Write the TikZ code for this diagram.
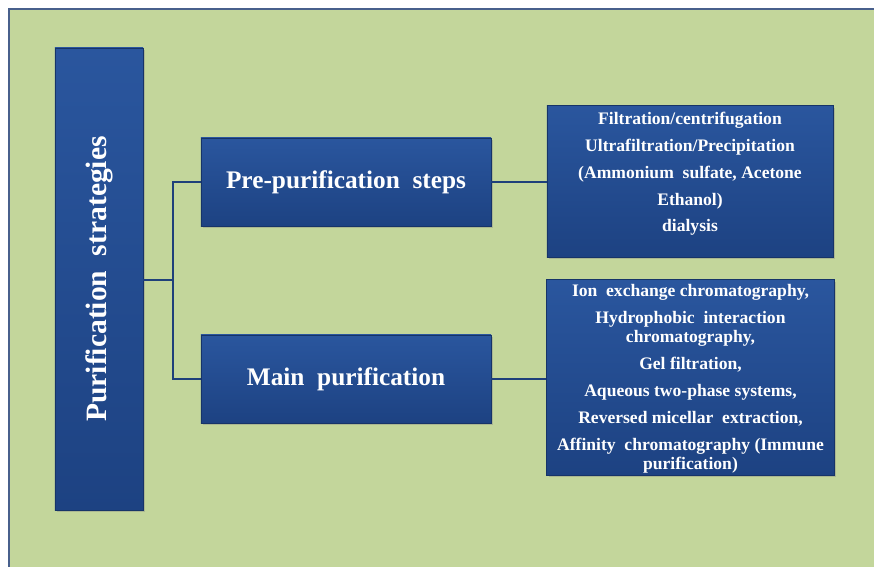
\documentclass[tikz,border=0pt]{standalone}
\usepackage{fontspec}
\setmainfont{Liberation Serif}
\usepackage{tikz}
\usetikzlibrary{positioning,shadows}
\definecolor{panelgreen}{RGB}{195,214,155}
\definecolor{paneledge}{RGB}{72,96,140}
\definecolor{boxtop}{RGB}{42,86,158}
\definecolor{boxbot}{RGB}{29,66,130}
\definecolor{boxedge}{RGB}{22,52,104}
\definecolor{linkblue}{RGB}{30,64,122}

\begin{document}
\begin{tikzpicture}[x=0.025cm, y=-0.025cm,
	box/.style={draw=boxedge, line width=0.6pt, top color=boxtop, bottom color=boxbot,
		text=white, font=\bfseries, align=center,
		drop shadow={shadow xshift=1.2pt, shadow yshift=-1.2pt, opacity=0.35}},
	listtext/.style={text=white, align=center, font=\bfseries\fontsize{12.5}{13.4}\selectfont},
	link/.style={draw=linkblue, line width=1.4pt}]
	\clip (0,0) rectangle (874,566);
	\fill[white] (0,0) rectangle (874,566);
	\draw[fill=panelgreen, draw=paneledge, line width=1.6pt] (9,9) rectangle (900,600);
	% boxes
	\node[box, minimum width=2.2cm, minimum height=11.55cm] (strat) at (99,279) {};
	\node[text=white, font=\bfseries\fontsize{21}{24}\selectfont, rotate=90] (stratlabel) at (strat.center) {Purification~ strategies};
	\node[box, minimum width=7.25cm, minimum height=2.2cm, font=\bfseries\fontsize{18}{21}\selectfont] (pre) at (346,182) {Pre-purification~ steps};
	\node[box, minimum width=7.25cm, minimum height=2.2cm, font=\bfseries\fontsize{18}{21}\selectfont] (main) at (346,379) {Main~ purification};
	\node[box, minimum width=7.15cm, minimum height=3.78cm] (filt) at (690,181.5) {};
	\node[listtext] (filttext) at (690,174) {Filtration/centrifugation\\[5.6pt]
		Ultrafiltration/Precipitation\\[5.6pt]
		(Ammonium~ sulfate, Acetone\\[5.6pt]
		Ethanol)\\[5.6pt]
		dialysis};
	\node[box, minimum width=7.18cm, minimum height=4.88cm] (chrom) at (690.5,377.5) {};
	\node[listtext] (chromtext) at (690.5,379) {Ion~ exchange chromatography,\\[5.8pt]
		Hydrophobic~ interaction\\
		chromatography,\\[5.8pt]
		Gel filtration,\\[5.8pt]
		Aqueous two-phase systems,\\[5.8pt]
		Reversed micellar~ extraction,\\[5.8pt]
		Affinity~ chromatography (Immune\\
		purification)};
	% connectors
	\coordinate (fork) at (173,280);
	\draw[link] (strat.east |- fork) -- (fork);
	\draw[link] (pre.west) -| (fork) |- (main.west);
	\draw[link] (pre.east) -- (pre.east -| filt.west);
	\draw[link] (main.east) -- (main.east -| chrom.west);
\end{tikzpicture}
\end{document}
